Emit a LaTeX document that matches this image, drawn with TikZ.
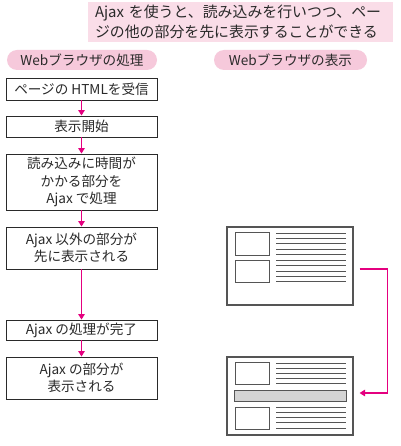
\documentclass[tikz,border=0pt]{standalone}
\usepackage{fontspec}
\setmainfont{Noto Sans CJK JP}
\usetikzlibrary{arrows.meta}
\definecolor{mag}{HTML}{E4007F}
\definecolor{pinkbg}{HTML}{FADDE8}
\definecolor{pinkpill}{HTML}{F6C9DB}
\definecolor{txt}{HTML}{2A2A2A}
\definecolor{frame}{HTML}{555555}
\definecolor{barfill}{HTML}{D4D4D4}
\begin{document}
\begin{tikzpicture}[x=1pt,y=-1pt,
  procbox/.style={draw=txt, line width=0.9pt, minimum width=151pt, text=txt,
    font=\fontsize{13.6}{17.5}\selectfont, align=center, inner sep=0pt},
  pill/.style={fill=pinkpill, rounded corners=10pt, minimum height=20pt, text=txt,
    font=\fontsize{13.6}{15}\selectfont, inner sep=0pt},
  flow/.style={draw=mag, line width=1.2pt, -{Triangle[width=6.5pt,length=5.5pt]}},
  screen/.style={draw=frame, line width=1.1pt, minimum width=126pt, minimum height=78pt, inner sep=0pt},
  inrect/.style={draw=frame, line width=0.9pt},
  txtline/.style={draw=frame, line width=1pt}
]
\useasboundingbox[fill=white] (0,0) rectangle (400,446);

% banner
\node[fill=pinkbg, minimum width=305pt, minimum height=40pt, text width=291pt,
  inner xsep=7pt, inner ysep=0pt, align=left, text=txt,
  font=\fontsize{14.9}{20}\selectfont] (ban) at (240.5,22)
  {Ajax を使うと、読み込みを行いつつ、ペー\\ジの他の部分を先に表示することができる};

% column headers
\node[pill, minimum width=150pt] (p1) at (82,60) {Webブラウザの処理};
\node[pill, minimum width=153pt] (p2) at (290.5,60) {Webブラウザの表示};

% process boxes
\node[procbox, minimum height=22pt] (b1) at (81.5,89) {ページの HTMLを受信};
\node[procbox, minimum height=21pt] (b2) at (81.5,126.5) {表示開始};
\node[procbox, minimum height=56pt] (b3) at (81.5,182) {読み込みに時間が\\かかる部分を\\Ajax で処理};
\node[procbox, minimum height=42pt] (b4) at (81.5,248) {Ajax 以外の部分が\\先に表示される};
\node[procbox, minimum height=20pt] (b5) at (81.5,330) {Ajax の処理が完了};
\node[procbox, minimum height=42pt] (b6) at (81.5,378) {Ajax の部分が\\表示される};

\draw[flow] (b1) -- (b2);
\draw[flow] (b2) -- (b3);
\draw[flow] (b3) -- (b4);
\draw[flow] (b4) -- (b5);
\draw[flow] (b5) -- (b6);

% screens
\node[screen] (s1) at (290,266) {};
\node[screen] (s2) at (290,396) {};

% top screen contents
\draw[inrect] (235,232) rectangle (269,255);
\draw[inrect] (235,260) rectangle (269,282);
\foreach \i in {0,...,9}
  \draw[txtline] (276,{233+\i*5.44}) -- (346,{233+\i*5.44});

% bottom screen contents
\draw[inrect] (235,362) rectangle (269,384);
\foreach \i in {0,...,4}
  \draw[txtline] (276,{363+\i*5.1}) -- (346,{363+\i*5.1});
\draw[inrect, fill=barfill] (234,390) rectangle (346,401);
\draw[inrect] (235,407) rectangle (269,429);
\foreach \i in {0,...,4}
  \draw[txtline] (276,{407+\i*5.25}) -- (346,{407+\i*5.25});

% screen transition arrow
\draw[flow] ([xshift=6pt,yshift=-3pt]s1.east) -- ++(28,0) |- ([xshift=6pt,yshift=3pt]s2.east);
\end{tikzpicture}
\end{document}
